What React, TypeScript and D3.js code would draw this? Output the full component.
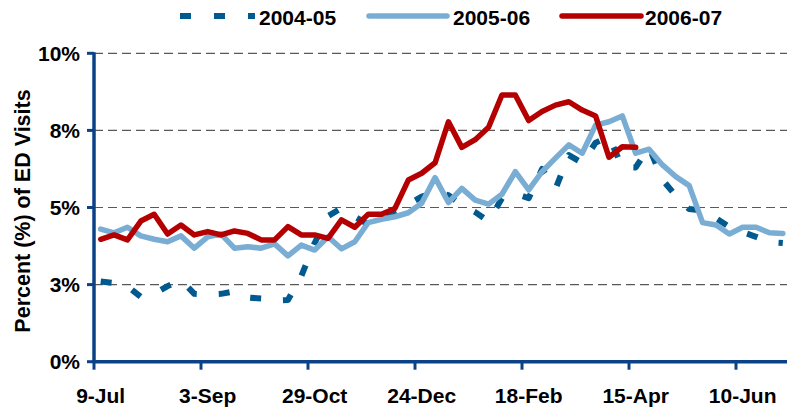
import React, { useEffect } from 'react';
import * as d3 from 'd3';

// weekly categories, 9-Jul through 1-Jul
const weeks = [
  '9-Jul', '16-Jul', '23-Jul', '30-Jul', '6-Aug', '13-Aug', '20-Aug', '27-Aug',
  '3-Sep', '10-Sep', '17-Sep', '24-Sep', '1-Oct', '8-Oct', '15-Oct', '22-Oct',
  '29-Oct', '5-Nov', '12-Nov', '19-Nov', '26-Nov', '3-Dec', '10-Dec', '17-Dec',
  '24-Dec', '31-Dec', '7-Jan', '14-Jan', '21-Jan', '28-Jan', '4-Feb', '11-Feb',
  '18-Feb', '25-Feb', '4-Mar', '11-Mar', '18-Mar', '25-Mar', '1-Apr', '8-Apr',
  '15-Apr', '22-Apr', '29-Apr', '6-May', '13-May', '20-May', '27-May', '3-Jun',
  '10-Jun', '17-Jun', '24-Jun', '1-Jul',
];
const tickLabels = ['9-Jul', '3-Sep', '29-Oct', '24-Dec', '18-Feb', '15-Apr', '10-Jun'];

const yTicks = [0, 2.5, 5, 7.5, 10];
const yTickLabels = ['0%', '3%', '5%', '8%', '10%'];

const visits0405 = [
  2.6, 2.55, 2.45, 2.1, 2.2, 2.45, 2.65, 2.2, 2.18, 2.2, 2.28, 2.08, 2.05, 1.98,
  2.0, 2.78, 3.85, 4.72, 4.98, 4.7, 4.45, 4.65, 4.88, 5.1, 5.35, 5.5, 5.4, 5.08,
  4.85, 4.55, 5.3, 5.45, 5.3, 6.25, 5.6, 6.7, 6.45, 7.1, 7.3, 6.3, 6.3, 6.95,
  5.9, 5.38, 4.95, 4.9, 4.65, 4.37, 4.2, 4.05, 3.88, 3.85,
];
const visits0506 = [
  4.3, 4.18, 4.36, 4.08, 3.97, 3.89, 4.08, 3.68, 4.05, 4.14, 3.68, 3.73, 3.68,
  3.82, 3.43, 3.78, 3.62, 4.05, 3.66, 3.89, 4.51, 4.62, 4.7, 4.83, 5.14, 5.97,
  5.16, 5.62, 5.24, 5.11, 5.43, 6.16, 5.57, 6.16, 6.6, 7.03, 6.76, 7.67, 7.78,
  7.97, 6.76, 6.89, 6.38, 6.0, 5.71, 4.51, 4.43, 4.14, 4.36, 4.36, 4.18, 4.16,
];
const visits0607 = [
  3.97, 4.11, 3.95, 4.56, 4.78, 4.14, 4.43, 4.11, 4.22, 4.11, 4.24, 4.16, 3.95,
  3.95, 4.38, 4.11, 4.11, 4.0, 4.6, 4.36, 4.78, 4.78, 4.97, 5.89, 6.11, 6.45,
  7.78, 6.95, 7.2, 7.6, 8.65, 8.65, 7.82, 8.11, 8.32, 8.43, 8.16, 7.97, 6.63,
  6.97, 6.95,
];

const seriesNames = ['2004-05', '2005-06', '2006-07'];

const FONT = "'Liberation Sans', Arial, sans-serif";
const AXIS = '#0B4287';

export default function App() {
  useEffect(() => {
    document.body.style.margin = '0';
  }, []);

  const width = 787;
  const height = 408;

  // category axis, points sit between tick marks
  const x = d3.scaleBand<string>().domain(weeks).range([94, 789.5]).padding(0);
  const y = d3.scaleLinear().domain([0, 10]).range([361.7, 53.3]);
  const cx = (i: number) => (x(weeks[i]) as number) + x.bandwidth() / 2;

  const line = d3
    .line<number>()
    .x((_, i) => cx(i))
    .y((d) => y(d));

  const series = [
    { name: seriesNames[0], data: visits0405, color: '#005A8F', width: 6, dash: '11,22', cap: 'butt' },
    { name: seriesNames[1], data: visits0506, color: '#7AADD4', width: 5.5, dash: null, cap: 'round' },
    { name: seriesNames[2], data: visits0607, color: '#B40000', width: 5.5, dash: null, cap: 'round' },
  ];

  const legendPos = [
    { x1: 180, x2: 255, tx: 259 },
    { x1: 369, x2: 447, tx: 453 },
    { x1: 562, x2: 641, tx: 645 },
  ];

  const y0 = y(0);

  return (
    <svg width={width} height={height} style={{ display: 'block', background: '#fff' }}>
      {/* gridlines */}
      {yTicks.filter((t) => t > 0).map((t) => (
        <line
          key={t}
          x1={94}
          x2={width}
          y1={y(t)}
          y2={y(t)}
          stroke="#595959"
          strokeWidth={1.2}
          strokeDasharray="9,5"
        />
      ))}

      {/* series */}
      {series.map((s) => (
        <path
          key={s.name}
          d={line(s.data) || ''}
          fill="none"
          stroke={s.color}
          strokeWidth={s.width}
          strokeDasharray={s.dash || undefined}
          strokeLinecap={s.cap as any}
          strokeLinejoin="round"
        />
      ))}

      {/* y axis */}
      <line x1={94} x2={94} y1={y(10) - 1} y2={y0 + 1} stroke={AXIS} strokeWidth={3.5} />
      {yTicks.map((t, i) => (
        <g key={t}>
          <line x1={87} x2={94} y1={y(t)} y2={y(t)} stroke={AXIS} strokeWidth={3} />
          <text
            x={80}
            y={y(t)}
            dy="0.36em"
            textAnchor="end"
            fontFamily={FONT}
            fontWeight="bold"
            fontSize={21}
            fill="#000"
          >
            {yTickLabels[i]}
          </text>
        </g>
      ))}

      {/* x axis */}
      <line x1={92.5} x2={width} y1={y0} y2={y0} stroke={AXIS} strokeWidth={3.5} />
      {tickLabels.map((lab) => {
        const idx = weeks.indexOf(lab);
        const tx = x(lab) as number;
        return (
          <g key={lab}>
            <line x1={tx} x2={tx} y1={y0} y2={y0 + 8} stroke={AXIS} strokeWidth={3} />
            <text
              x={cx(idx)}
              y={403}
              textAnchor="middle"
              fontFamily={FONT}
              fontWeight="bold"
              fontSize={21}
              fill="#000"
            >
              {lab}
            </text>
          </g>
        );
      })}

      {/* y title */}
      <text
        transform="translate(30,211) rotate(-90)"
        textAnchor="middle"
        fontFamily={FONT}
        fontWeight="bold"
        fontSize={21.5}
        fill="#000"
      >
        Percent (%) of ED Visits
      </text>

      {/* legend */}
      {series.map((s, i) => (
        <g key={s.name}>
          <line
            x1={legendPos[i].x1}
            x2={legendPos[i].x2}
            y1={16}
            y2={16}
            stroke={s.color}
            strokeWidth={s.dash ? 6 : 5.5}
            strokeDasharray={s.dash ? '11,23' : undefined}
            strokeLinecap={s.cap as any}
          />
          <text
            x={legendPos[i].tx}
            y={25}
            fontFamily={FONT}
            fontWeight="bold"
            fontSize={21}
            fill="#000"
          >
            {s.name}
          </text>
        </g>
      ))}
    </svg>
  );
}
